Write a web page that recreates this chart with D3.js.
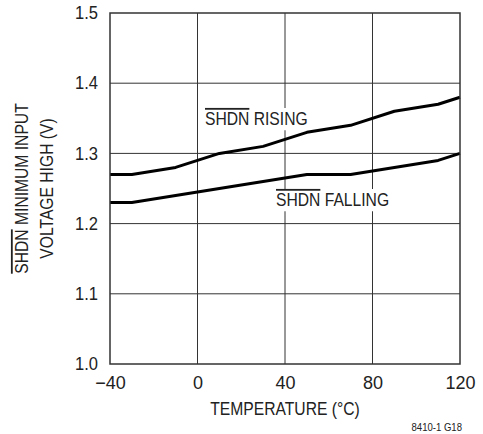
<!DOCTYPE html>
<html>
<head>
<meta charset="utf-8">
<script src="https://cdn.jsdelivr.net/npm/d3@7"></script>
<style>
  body { margin: 0; background: #fff; }
  text { font-family: "Liberation Sans", Arial, sans-serif; fill: #222; }
</style>
</head>
<body>
<div id="chart"></div>
<script>
// temperature (°C) where the curves bend
const temps = [-40, -30, -10, 10, 30, 50, 70, 90, 110, 120];
// SHDN rising / falling threshold (V)
const rising = [1.27, 1.27, 1.28, 1.30, 1.31, 1.33, 1.34, 1.36, 1.37, 1.38];
const falling = [1.23, 1.23, 1.24, 1.25, 1.26, 1.27, 1.27, 1.28, 1.29, 1.30];
const xTicks = [-40, 0, 40, 80, 120];
const yTicks = [1.0, 1.1, 1.2, 1.3, 1.4, 1.5];

const width = 483, height = 434;
const margin = { top: 13, right: 23, bottom: 70, left: 110 };
const narrow = 0.87; // the original type is a condensed face

const svg = d3.select("#chart")
  .append("svg")
  .attr("width", width)
  .attr("height", height);

const x = d3.scaleLinear().domain([-40, 120]).range([margin.left, width - margin.right]);
const y = d3.scaleLinear().domain([1.0, 1.5]).range([height - margin.bottom, margin.top]);

// grid
svg.append("g")
  .selectAll("line")
  .data(xTicks.slice(1, -1))
  .enter().append("line")
  .attr("x1", d => x(d)).attr("x2", d => x(d))
  .attr("y1", y(1.5)).attr("y2", y(1.0))
  .attr("stroke", "#333").attr("stroke-width", 1);

svg.append("g")
  .selectAll("line")
  .data(yTicks.slice(1, -1))
  .enter().append("line")
  .attr("x1", x(-40)).attr("x2", x(120))
  .attr("y1", d => y(d)).attr("y2", d => y(d))
  .attr("stroke", "#333").attr("stroke-width", 1);

// axes (labels only, frame drawn below)
const xAxis = svg.append("g")
  .attr("transform", `translate(0,${y(1.0)})`)
  .call(d3.axisBottom(x).tickValues(xTicks).tickSize(0).tickPadding(12)
    .tickFormat(d => d < 0 ? "\u2212" + Math.abs(d) : d));
xAxis.select(".domain").remove();
xAxis.selectAll("text").attr("font-size", 18).attr("font-family", null).attr("fill", "#222");

const yAxis = svg.append("g")
  .attr("transform", `translate(${x(-40)},0)`)
  .call(d3.axisLeft(y).tickValues(yTicks).tickSize(0).tickPadding(12).tickFormat(d3.format(".1f")));
yAxis.select(".domain").remove();
yAxis.selectAll("text").attr("font-size", 18).attr("font-family", null).attr("fill", "#222")
  .attr("transform", `scale(0.92,1)`).attr("x", -12 / 0.92);

// curve labels with white boxes
function label(tx, ty, rest) {
  const g = svg.append("g").attr("transform", `translate(${tx},${ty}) scale(${narrow},1)`);
  const bg = g.append("rect").attr("fill", "#fff");
  const t = g.append("text").attr("font-size", 18);
  t.append("tspan").text("SHDN").style("text-decoration", "overline");
  t.append("tspan").text(" " + rest);
  const b = t.node().getBBox();
  bg.attr("x", b.x - 3).attr("y", b.y - 1).attr("width", b.width + 6).attr("height", b.height + 2);
}
label(205, 125, "RISING");
label(276, 206, "FALLING");

// curves
const line = d3.line()
  .x((d, i) => x(temps[i]))
  .y(d => y(d));

[rising, falling].forEach(s => {
  svg.append("path")
    .datum(s)
    .attr("fill", "none")
    .attr("stroke", "#000")
    .attr("stroke-width", 3)
    .attr("stroke-linejoin", "round")
    .attr("d", line);
});

// frame
svg.append("rect")
  .attr("x", x(-40)).attr("y", y(1.5))
  .attr("width", x(120) - x(-40)).attr("height", y(1.0) - y(1.5))
  .attr("fill", "none").attr("stroke", "#333").attr("stroke-width", 1.5);

// axis titles
svg.append("text")
  .attr("transform", `translate(${(x(-40) + x(120)) / 2},415) scale(${narrow},1)`)
  .attr("text-anchor", "middle").attr("font-size", 18)
  .text("TEMPERATURE (°C)");

const yt = svg.append("text")
  .attr("transform", `translate(28,${(y(1.0) + y(1.5)) / 2}) rotate(-90) scale(${narrow},1)`)
  .attr("text-anchor", "middle").attr("font-size", 18);
yt.append("tspan").attr("x", 0).attr("dy", 0).text("SHDN").style("text-decoration", "overline");
yt.append("tspan").text(" MINIMUM INPUT");
yt.append("tspan").attr("x", 0).attr("dy", 25).text("VOLTAGE HIGH (V)");

svg.append("text")
  .attr("transform", `translate(462,431) scale(${narrow},1)`)
  .attr("text-anchor", "end").attr("font-size", 11)
  .text("8410-1 G18");
</script>
</body>
</html>
